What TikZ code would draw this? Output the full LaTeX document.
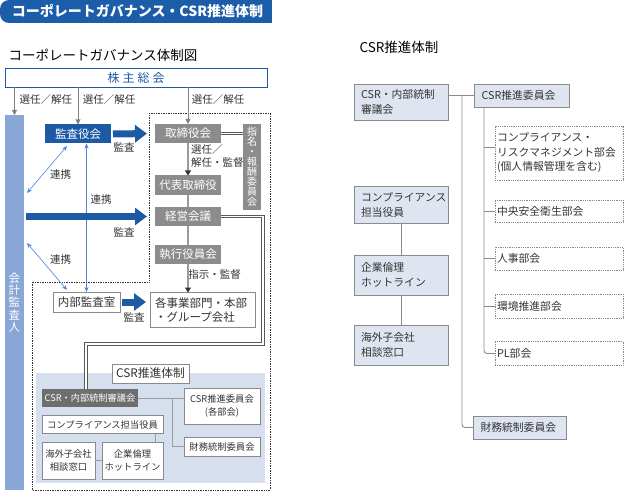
\documentclass[tikz,border=0pt]{standalone}
\usepackage{fontspec}
\setmainfont{Noto Sans CJK JP}
\usetikzlibrary{arrows.meta}

\definecolor{bannerblue}{HTML}{1B5DA8}
\definecolor{kansablue}{HTML}{1C5AA5}
\definecolor{barblue}{HTML}{88A6D6}
\definecolor{linkblue}{HTML}{4A86CF}
\definecolor{boxgray}{HTML}{8C8C8C}
\definecolor{shingigray}{HTML}{6E6E6E}
\definecolor{csrarea}{HTML}{D5DFEE}
\definecolor{rboxfill}{HTML}{DFE5F0}
\definecolor{framegray}{HTML}{8A8A8A}
\definecolor{linegray}{HTML}{9A9A9A}
\definecolor{textgray}{HTML}{333333}

\begin{document}
\begin{tikzpicture}[x=1pt,y=-1pt,
	every node/.style={inner sep=0pt, outer sep=0pt, text=textgray},
	bluebox/.style={rectangle, fill=kansablue, text=white, minimum width=66pt, minimum height=19pt, font=\fontsize{11.5}{13}\selectfont},
	graybox/.style={rectangle, fill=boxgray, text=white, minimum width=66pt, minimum height=19pt, font=\fontsize{11.5}{13}\selectfont},
	whitebox/.style={rectangle, draw=framegray, fill=white, line width=0.8pt, align=center, font=\fontsize{11.5}{14}\selectfont},
	smallbox/.style={rectangle, draw=framegray, fill=white, line width=0.8pt, align=center, font=\fontsize{9.3}{12.5}\selectfont},
	rbox/.style={rectangle, draw=framegray, fill=rboxfill, line width=0.8pt, align=left, text width=80pt, inner xsep=7pt, font=\fontsize{10.8}{15}\selectfont},
	dotbox/.style={rectangle, draw=framegray, densely dotted, line width=0.8pt, align=left, text width=124pt, inner xsep=2pt, font=\fontsize{10.8}{14.5}\selectfont},
	lbl/.style={font=\fontsize{10.5}{12.5}\selectfont},
	selarrow/.style={draw=gray, line width=0.8pt, -{Triangle[length=5pt,width=5pt]}},
	chain/.style={draw=linegray, line width=1.8pt},
	chainarrow/.style={draw=linegray, line width=1.8pt, -{Triangle[length=5pt,width=6pt,color=textgray]}},
	bigarrow/.style={draw=kansablue, line width=7pt, -{Triangle[length=12pt,width=17pt]}},
	linkarrow/.style={draw=linkblue, line width=0.6pt, {Stealth[length=5pt,width=4pt]}-{Stealth[length=5pt,width=4pt]}},
	dbl/.style={draw=gray!70!black, double=white, double distance=1.8pt, line width=0.7pt},
	conn/.style={draw=linegray, line width=0.8pt},
	rconn/.style={draw=framegray, line width=0.9pt}]

	\useasboundingbox (0,0) rectangle (624,492);

	% Banner

	\fill[bannerblue, rounded corners=9pt] (0,0) rectangle (40,23);
	\fill[bannerblue] (20,0) rectangle (272,23);
	\node[font=\bfseries\fontsize{14}{16}\selectfont, text=white]
	(banner) at (137.5,11.5) {コーポレートガバナンス・CSR推進体制};

	\node[font=\fontsize{13.5}{15}\selectfont, text=black]
	(titleL) at (103,55) {コーポレートガバナンス体制図};
	\node[font=\fontsize{13.5}{15}\selectfont, text=black]
	(titleR) at (399,47) {CSR推進体制};

	% Areas

	\fill[csrarea] (36,373) rectangle (265,483);
	\draw[densely dotted, draw=textgray, line width=0.7pt]
	(149,113) -- (270,113) -- (270,490) -- (32,490) -- (32,282) -- (149,282) -- cycle;

	% Node

	\node[rectangle, draw=kansablue, fill=white, line width=0.9pt, minimum width=262pt, minimum height=19pt, text=kansablue, font=\fontsize{12}{14}\selectfont]
	(kabunushi) at (136,77.5) {株\hspace{3pt}主\hspace{3pt}総\hspace{3pt}会};

	\node[rectangle, fill=barblue, text=white, minimum width=19pt, minimum height=375pt, align=center, font=\fontsize{11.5}{12.3}\selectfont]
	(kaikei) at (14.5,302.5) {会\\計\\監\\査\\人};

	\node[bluebox] (kansayaku) at (78,134) {監査役会};

	\node[graybox] (torishimari) at (188,133.5) {取締役会};
	\node[graybox] (daihyo) at (188,185) {代表取締役};
	\node[graybox] (keiei) at (188,216.5) {経営会議};
	\node[graybox] (shikko) at (188,254.5) {執行役員会};
	\node[rectangle, fill=boxgray, text=white, minimum width=18pt, minimum height=86pt, align=center, font=\fontsize{10}{10}\selectfont]
	(shimei) at (252,167) {指\\名\\・\\報\\酬\\委\\員\\会};

	\node[whitebox, minimum width=67pt, minimum height=20pt] (naibu) at (86.5,302) {内部監査室};
	\node[whitebox, align=left, text width=95pt, inner xsep=5pt, minimum height=35pt]
	(jigyo) at (202.5,310) {各事業部門・本部\\・グループ会社};

	% CSR Node

	\node[rectangle, draw=framegray, fill=white, line width=0.8pt, minimum width=77pt, minimum height=19pt, font=\fontsize{11.8}{14}\selectfont]
	(csrlabel) at (150.5,373.5) {CSR推進体制};
	\node[rectangle, fill=shingigray, text=white, minimum width=96pt, minimum height=18pt, font=\fontsize{9.2}{11}\selectfont]
	(shingikai) at (90,398) {CSR・内部統制審議会};
	\node[smallbox, minimum width=76pt, minimum height=36pt] (suishin) at (222,406) {CSR推進委員会\\(各部会)};
	\node[smallbox, minimum width=76pt, minimum height=19pt] (zaimu) at (222,446.5) {財務統制委員会};
	\node[smallbox, minimum width=121pt, minimum height=18pt] (compl) at (102.5,424.5) {コンプライアンス担当役員};
	\node[smallbox, minimum width=53pt, minimum height=37pt] (kaigai) at (68.5,460.5) {海外子会社\\相談窓口};
	\node[smallbox, minimum width=61pt, minimum height=37pt] (rinri) at (132.5,460.5) {企業倫理\\ホットライン};

	% Labels

	\node[lbl] (sel1) at (46,100) {選任／解任};
	\node[lbl] (sel2) at (109,100) {選任／解任};
	\node[lbl] (sel3) at (218,100) {選任／解任};
	\node[lbl, align=left, anchor=north west] (sel4) at (191,145) {選任／\\解任・監督};
	\node[lbl] (shiji) at (214.5,275) {指示・監督};
	\node[lbl] (kansa1) at (124,147) {監査};
	\node[lbl] (kansa2) at (124,232) {監査};
	\node[lbl] (kansa3) at (134,317) {監査};
	\node[lbl] (renkei1) at (60.5,175) {連携};
	\node[lbl] (renkei2) at (101,200) {連携};
	\node[lbl] (renkei3) at (60.5,260) {連携};

	% EDGE

	\draw[selarrow] (kabunushi.south -| kaikei.north) -- (kaikei.north);
	\draw[selarrow] (kabunushi.south -| kansayaku.north) -- (kansayaku.north);
	\draw[selarrow] (kabunushi.south -| torishimari.north) -- (torishimari.north);

	\draw[chainarrow] (torishimari.south) -- (daihyo.north);
	\draw[chain] (daihyo.south) -- (keiei.north);
	\draw[chain] (keiei.south) -- (shikko.north);
	\draw[chainarrow] (shikko.south) -- (jigyo.north -| shikko.south);

	\draw[linkarrow] ([shift={(22,2.5)}]kansayaku.south west) -- ([shift={(3,-109.5)}]kaikei.east);
	\draw[linkarrow] (kansayaku.south -| naibu.north) -- (naibu.north);
	\draw[linkarrow] ([shift={(3,-59.5)}]kaikei.east) -- ([shift={(14,-2)}]naibu.north west);

	\draw[bigarrow, shorten <=2pt, shorten >=8pt] (kansayaku.east) -- (torishimari.west);
	\draw[bigarrow, shorten <=2pt, shorten >=8pt] (kaikei.east |- keiei.west) -- (keiei.west);
	\draw[bigarrow, shorten <=2pt, shorten >=4pt] (naibu.east) -- (jigyo.west |- naibu.east);

	\draw[dbl] (torishimari.east) -- (torishimari.east -| shimei.west);
	\coordinate (kbend1) at (263,344);
	\coordinate (kbend2) at (86,344);
	\draw[dbl] (keiei.east) -| (kbend1) -- (kbend2) -- (kbend2 |- shingikai.north);

	% CSR EDGE

	\coordinate (sjoin) at (172,398);
	\draw[conn] (shingikai.east) -- (shingikai.east -| suishin.west);
	\draw[conn] (sjoin) |- (zaimu.west);
	\draw[conn] ([xshift=-8pt]compl.south east) -- ([xshift=-8pt]rinri.north east);
	\draw[conn] (kaigai.east) -- (rinri.west);

	% Right Node

	\node[rbox, minimum height=36pt] (rshingi) at (401,102) {CSR・内部統制\\審議会};
	\node[rbox, minimum height=37pt] (rcompl) at (401,205) {コンプライアンス\\担当役員};
	\node[rbox, minimum height=40pt] (rrinri) at (401,275) {企業倫理\\ホットライン};
	\node[rbox, minimum height=40pt] (rkaigai) at (401,345) {海外子会社\\相談窓口};
	\node[rbox, text width=81pt, minimum height=23pt] (rsuishin) at (522,95.5) {CSR推進委員会};
	\node[rbox, text width=79pt, minimum height=23pt] (rzaimu) at (520,427.5) {財務統制委員会};

	\node[dotbox, minimum height=54pt] (bukai1) at (559,153) {コンプライアンス・\\リスクマネジメント部会\\(個人情報管理を含む)};
	\node[dotbox, minimum height=22pt] (bukai2) at (559,211) {中央安全衛生部会};
	\node[dotbox, minimum height=23pt] (bukai3) at (559,258.5) {人事部会};
	\node[dotbox, minimum height=24pt] (bukai4) at (559,306) {環境推進部会};
	\node[dotbox, minimum height=24pt] (bukai5) at (559,353.5) {PL部会};

	% Right EDGE

	\draw[rconn] (rshingi.east |- rsuishin.west) -- (rsuishin.west);
	\coordinate (rjoin) at (462,95.5);
	\draw[rconn, rounded corners=3pt] (rjoin) |- (rzaimu.west);

	\coordinate (rsub) at (484,107);
	\draw[rconn, rounded corners=3pt] (rsub) |- (bukai5.west);
	\path ([yshift=6pt]bukai1.west) coordinate (bukai1in);
	\draw[rconn] (rsub |- bukai1in) -- (bukai1in);
	\foreach \b in {bukai2,bukai3,bukai4}
		\draw[rconn] (rsub |- \b.west) -- (\b.west);

	\draw[rconn] (rcompl.south) -- (rrinri.north);
	\draw[rconn] (rrinri.south) -- (rkaigai.north);

\end{tikzpicture}
\end{document}
